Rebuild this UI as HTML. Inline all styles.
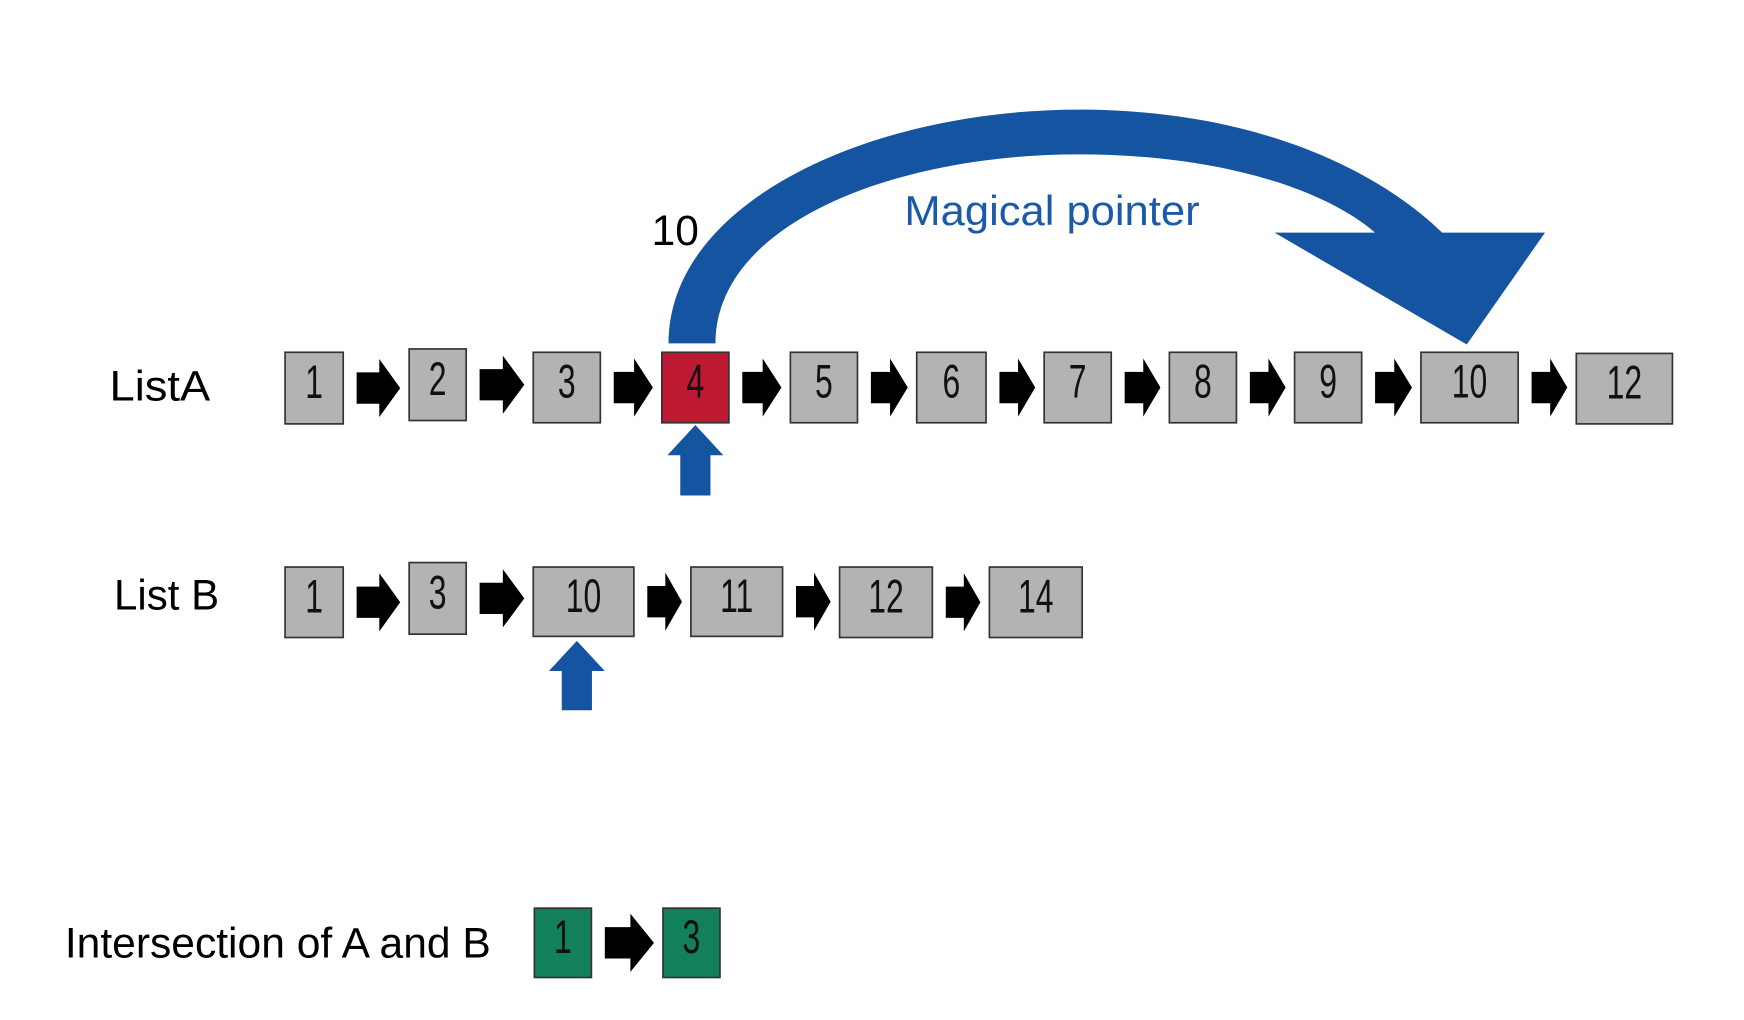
<!DOCTYPE html>
<html><head><meta charset="utf-8"><style>
html,body{margin:0;padding:0;background:#fff;}
svg{display:block;}
text{font-family:"Liberation Sans",sans-serif;}
</style></head><body>
<svg id="chart" width="1744" height="1020" viewBox="0 0 1560 912" preserveAspectRatio="none" xmlns="http://www.w3.org/2000/svg">
<path fill="#1554a0" d="M598,307 C598,180 780,98 965,98 C1120,98 1230,150 1290,208 L1382,208 L1312,308 L1140,208 L1230,208 C1180,165 1080,138 965,138 C800,138 640,200 640,307 Z"/>
<text x="604" y="219" font-size="38" text-anchor="middle" fill="#000">10</text>
<text x="941" y="201" font-size="37" text-anchor="middle" fill="#1a5aa8" textLength="264" lengthAdjust="spacingAndGlyphs">Magical pointer</text>
<text x="98" y="358" font-size="38" fill="#000" textLength="90" lengthAdjust="spacingAndGlyphs">ListA</text>
<text x="102" y="545" font-size="38" fill="#000" textLength="94" lengthAdjust="spacingAndGlyphs">List B</text>
<text x="58" y="856" font-size="38" fill="#000" textLength="381" lengthAdjust="spacingAndGlyphs">Intersection of A and B</text>
<g id="marks"></g>
</svg>
<script>
const listA = ["1","2","3","4","5","6","7","8","9","10","12"];
const listB = ["1","3","10","11","12","14"];
const listI = ["1","3"];
const highlightA = 3;
const pointerB = 2;

const NS = "http://www.w3.org/2000/svg";
const g = document.getElementById("marks");
const layoutA = [[255,307,315,379],[366,417,312,376],[477,537,315,378],[592,652,315,378],[707,767,315,378],[820,882,315,378],[934,994,315,378],[1046,1106,315,378],[1158,1218,315,378],[1271,1358,315,378],[1410,1496,316,379]];
const layoutB = [[255,307,507,570],[366,417,503,567],[477,567,507,569],[618,700,507,569],[751,834,507,570],[885,968,507,570]];
const layoutI = [[478,529,812,874],[593,644,812,874]];

function box(l, label, fill, name){
  const r = document.createElementNS(NS,"rect");
  r.setAttribute("x",l[0]); r.setAttribute("y",l[2]);
  r.setAttribute("width",l[1]-l[0]); r.setAttribute("height",l[3]-l[2]);
  r.setAttribute("fill",fill); r.setAttribute("stroke","#333"); r.setAttribute("stroke-width","1.5");
  
  
  g.appendChild(r);
  const t = document.createElementNS(NS,"text");
  t.setAttribute("x",(l[0]+l[1])/2);
  t.setAttribute("y",(l[2]+l[3])/2+9);
  t.setAttribute("font-size","42");
  t.setAttribute("text-anchor","middle");
  t.setAttribute("fill","#111");
  t.setAttribute("transform","translate("+((l[0]+l[1])/2)+",0) scale(0.68,1) translate("+(-(l[0]+l[1])/2)+",0)");
  t.textContent = label;
  
  
  g.appendChild(t);
}
function arrow(x0, x1, cy, name){
  const w = x1-x0, hx = x0 + w*0.52;
  const p = document.createElementNS(NS,"polygon");
  p.setAttribute("points",[x0,cy-14,hx,cy-14,hx,cy-26,x1,cy,hx,cy+26,hx,cy+14,x0,cy+14].join(","));
  p.setAttribute("fill","#000");
  
  
  g.appendChild(p);
}
function upArrow(cx, tip, bottom, name){
  const p = document.createElementNS(NS,"polygon");
  const hy = tip+27;
  p.setAttribute("points",[cx,tip,cx+25,hy,cx+13.5,hy,cx+13.5,bottom,cx-13.5,bottom,cx-13.5,hy,cx-25,hy].join(","));
  p.setAttribute("fill","#1554a0");
  
  
  g.appendChild(p);
}
function drawList(vals, layout, key, fillFn){
  vals.forEach((v,i)=>{
    const l = layout[Math.min(i,layout.length-1)];
    box(l, v, fillFn(i), key+'-node-'+v);
    if(i<vals.length-1){
      const n = layout[Math.min(i+1,layout.length-1)];
      arrow(l[1]+12, n[0]-8, (l[2]+l[3])/2, key+'-next-arrow-'+i);
    }
  });
}
drawList(listA, layoutA, 'list-a', i=> i===highlightA ? "#be1932" : "#b3b3b3");
drawList(listB, layoutB, 'list-b', i=> "#b3b3b3");
drawList(listI, layoutI, 'intersection', i=> "#12805a");
const la = layoutA[highlightA];
upArrow((la[0]+la[1])/2, 380, 443, 'list-a-cursor-arrow');
const lb = layoutB[pointerB];
upArrow(516, 573, 635, 'list-b-cursor-arrow');
</script>
</body></html>
